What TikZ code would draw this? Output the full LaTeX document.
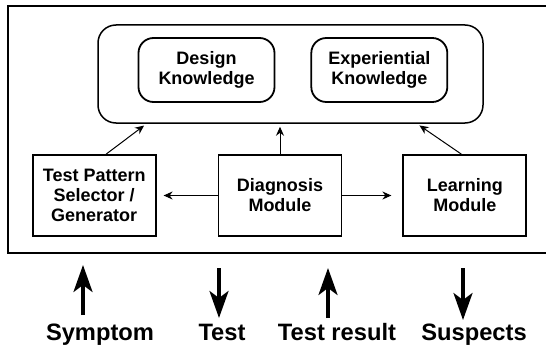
\documentclass[tikz,border=0pt]{standalone}
\usepackage{fontspec}
\setmainfont{Liberation Sans}
\usetikzlibrary{arrows.meta, positioning}

\begin{document}
\begin{tikzpicture}[x=1pt, y=1pt, >=Stealth]
    \tikzset{module/.style = {rectangle, draw, line width=1.8pt, minimum width=123pt, minimum height=81pt, align=center, font=\bfseries\fontsize{18}{20}\selectfont}}
    \tikzset{store/.style = {rectangle, draw, line width=1.8pt, rounded corners=15pt, minimum width=136pt, minimum height=64pt, align=center, font=\bfseries\fontsize{18}{20}\selectfont}}
    \tikzset{base/.style = {rectangle, draw, line width=1.5pt, rounded corners=18pt, minimum width=385pt, minimum height=98pt}}
    \tikzset{arrow/.style = {draw, -{Stealth[length=9pt, width=8pt]}, line width=1pt, shorten >=3pt}}
    \tikzset{io/.style = {draw, -{Stealth[length=27pt, width=19pt, inset=7pt]}, line width=3.5pt}}
    \tikzset{signal/.style = {anchor=base, inner sep=0pt, font=\bfseries\fontsize{23.7}{26}\selectfont}}

    \useasboundingbox (0,0) rectangle (546,349);

    % Frame round the system (runs off to the right)
    \draw [line width=1.3pt] (546,343) -- (8,343) -- (8,96) -- (546,96);

    % Knowledge base
    \node [base] (kb) at (290.5,275) {};
    \node [store] (design) at (206.5,279) {Design\\Knowledge};
    \node [store, right=35pt of design] (exper) {Experiential\\Knowledge};

    % Modules
    \node [module] (diag) at (280,153.5) {Diagnosis\\Module};
    \node [module, left=61pt of diag] (gen) {Test Pattern\\Selector /\\Generator};
    \node [module, right=60pt of diag] (learn) {Learning\\Module};

    % Connections
    \draw [arrow] ([xshift=12pt]gen.north) -- ([xshift=-144pt]kb.south);
    \draw [arrow] (diag.north) -- (diag.north |- kb.south);
    \draw [arrow] ([xshift=-3.5pt]learn.north) -- ([xshift=126.5pt]kb.south);
    \draw [arrow, shorten >=7pt] (diag.west) -- (gen.east);
    \draw [arrow, shorten >=11pt] (diag.east) -- (learn.west);

    % Inputs and outputs
    \node [signal] (symptom) at (100,9) {Symptom};
    \node [signal] (test) at (222,9) {Test};
    \node [signal] (result) at (337,9) {Test result};
    \node [signal] (suspects) at (474,9) {Suspects};

    \coordinate (symptom lo) at (83,34);
    \coordinate (symptom hi) at (83,84);
    \coordinate (test hi) at (219,81);
    \coordinate (test lo) at (219,31);
    \coordinate (result lo) at (328,31);
    \coordinate (result hi) at (328,81);
    \coordinate (suspects hi) at (463,81);
    \coordinate (suspects lo) at (463,29);

    \draw [io] (symptom lo) -- (symptom hi);
    \draw [io] (test hi) -- (test lo);
    \draw [io] (result lo) -- (result hi);
    \draw [io] (suspects hi) -- (suspects lo);
\end{tikzpicture}
\end{document}
